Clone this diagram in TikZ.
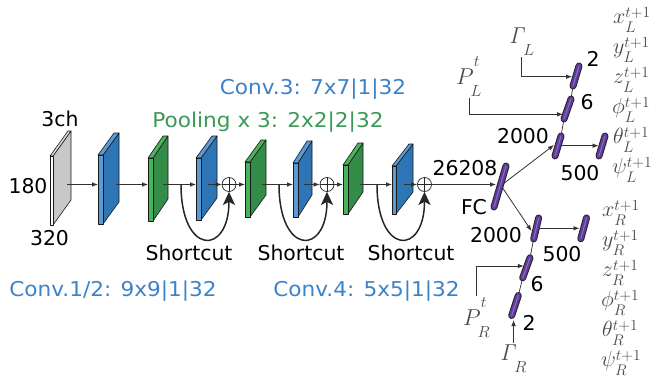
\documentclass[tikz,border=0pt]{standalone}
\usepackage{fix-cm}
\usepackage[no-math]{fontspec}
\newfontfamily\dejavu{DejaVu Sans}
\usetikzlibrary{arrows.meta,calc}
\definecolor{bluefront}{HTML}{5B9BD5}
\definecolor{blueside}{HTML}{2E75B6}
\definecolor{greenfront}{HTML}{47B45C}
\definecolor{greenside}{HTML}{338C48}
\definecolor{grayside}{HTML}{C8C8C8}
\definecolor{graytop}{HTML}{DEDEDE}
\definecolor{labblue}{HTML}{3C82C8}
\definecolor{labgreen}{HTML}{3A9A55}
\definecolor{mathgray}{HTML}{4A4A4A}
\definecolor{linegray}{HTML}{333333}
\definecolor{barpurple}{HTML}{5E3A9A}
\definecolor{barlight}{HTML}{8E6CC8}

\newcommand\mySlab[9]{% x, top, bottom, front width, dx, rise, front, side, top
  \filldraw[slabline,fill=#8] ({#1+#4},#2) -- ({#1+#4+#5},{#2-#6}) -- ({#1+#4+#5},{#3-#6}) -- ({#1+#4},#3) -- cycle;
  \filldraw[slabline,fill=#9] (#1,#2) -- ({#1+#5},{#2-#6}) -- ({#1+#4+#5},{#2-#6}) -- ({#1+#4},#2) -- cycle;
  \filldraw[slabline,fill=#7] (#1,#2) rectangle ({#1+#4},#3);
}
\newcommand\fcBar[2]{%
  \draw[line width=7pt,line cap=round,draw=black!85] (#1) -- (#2);
  \draw[line width=5pt,line cap=round,draw=barpurple] (#1) -- (#2);
  \draw[line width=1pt,line cap=round,draw=barlight] (#1) -- (#2);
}
\newcommand\dn[1]{\raisebox{-0.2em}{$\scriptstyle #1$}}
\newcommand\upr[1]{\raisebox{-0.12em}{$\scriptstyle #1$}}
\newcommand\hi[1]{\raisebox{0.4em}{$\scriptstyle #1$}}

\begin{document}
\begin{tikzpicture}[x=1pt,y=-1pt,
  every node/.style={inner sep=0pt},
  slabline/.style={draw=black!90, line width=0.6pt, line join=round},
  lab/.style={font=\dejavu\fontsize{20.4}{24}\selectfont, anchor=base},
  wide/.style={xscale=1.06},
  ml/.style={font=\fontsize{22}{26}\selectfont, text=mathgray, anchor=base west, inner sep=1pt},
  ml2/.style={font=\fontsize{23}{27}\selectfont, text=mathgray, anchor=base west, inner sep=1pt},
  arr/.style={draw=linegray, line width=0.8pt, -{Latex[length=6pt,width=4.6pt]}},
  sc/.style={draw=black!85, line width=1.5pt, -{Stealth[length=13pt,width=12pt,inset=3pt]}},
  plus/.style={circle, draw=black!85, line width=0.7pt, fill=white, minimum size=14pt, inner sep=0pt},
  thin/.style={draw=black!85, line width=0.7pt}
]
\useasboundingbox (0,0) rectangle (657,381);

% ---- slabs ----
\mySlab{50}{156}{225}{3}{18}{25}{white}{grayside}{graytop}
\mySlab{98}{155}{224}{5}{16}{22}{bluefront}{blueside}{bluefront}
\mySlab{148}{158}{221}{5}{15}{22}{greenfront}{greenside}{greenfront}
\mySlab{196}{158}{220}{5}{16}{22}{bluefront}{blueside}{bluefront}
\mySlab{245}{162}{217}{5}{16}{22}{greenfront}{greenside}{greenfront}
\mySlab{293}{163}{217}{5}{14}{22}{bluefront}{blueside}{bluefront}
\mySlab{343}{165}{214}{5}{15}{22}{greenfront}{greenside}{greenfront}
\mySlab{392}{166}{214}{4}{17}{22}{bluefront}{blueside}{bluefront}

% ---- coordinates on the main line ----
\coordinate (g0o) at (67,184.5);
\coordinate (b1i) at (98,184.5);  \coordinate (b1o) at (116,184.5);
\coordinate (n1i) at (148,184.5); \coordinate (n1o) at (163,184.5);
\coordinate (b2i) at (196,184.5); \coordinate (b2o) at (208,184.5);
\coordinate (n2i) at (245,184.5); \coordinate (n2o) at (262,184.5);
\coordinate (b3i) at (293,184.5); \coordinate (b3o) at (304,184.5);
\coordinate (n3i) at (343,184.5); \coordinate (n3o) at (360,184.5);
\coordinate (b4i) at (392,184.5); \coordinate (b4o) at (404,184.5);
\coordinate (s1) at (181,184.5);
\coordinate (s2) at (279,184.5);
\coordinate (s3) at (377,184.5);

\node[plus] (p1) at (229,184.5) {};
\node[plus] (p2) at (327,184.5) {};
\node[plus] (p3) at (424.5,184.5) {};
\foreach \p in {p1,p2,p3}{\draw[thin] (\p.north) -- (\p.south) (\p.west) -- (\p.east);}

\draw[arr] (g0o) -- (b1i);
\draw[arr] (b1o) -- (n1i);
\draw[arr] (n1o) -- (b2i);
\draw[arr] (b2o) -- (p1.west);
\draw[arr] (p1.east) -- (n2i);
\draw[arr] (n2o) -- (b3i);
\draw[arr] (b3o) -- (p2.west);
\draw[arr] (p2.east) -- (n3i);
\draw[arr] (n3o) -- (b4i);
\draw[arr] (b4o) -- (p3.west);

\draw[sc] (s1) .. controls (181,256) and (229,256) .. (p1.south);
\draw[sc] (s2) .. controls (279,256) and (327,256) .. (p2.south);
\draw[sc] (s3) .. controls (377,256) and (424.5,256) .. (p3.south);

% ---- FC bars ----
\coordinate (fcA) at (494,207);   \coordinate (fcB) at (506,166);
\coordinate (l2kA) at (555,156);  \coordinate (l2kB) at (561,136);
\coordinate (l5A) at (599,156);   \coordinate (l5B) at (605,136);
\coordinate (l6A) at (564,119);   \coordinate (l6B) at (571,99);
\coordinate (l2A) at (573,86);    \coordinate (l2B) at (579,66);
\coordinate (r2kA) at (533.7,239);\coordinate (r2kB) at (538.6,218);
\coordinate (r5A) at (580.8,238.8);\coordinate (r5B) at (586.5,217.9);
\coordinate (r6A) at (522.7,277.9);\coordinate (r6B) at (530,257.8);
\coordinate (r2A) at (511.7,315.5);\coordinate (r2B) at (518.3,295.5);

\draw[thin] (l2kB) -- (l6A);
\draw[thin] (l6B) -- (l2A);
\draw[thin] (r2kA) -- (r6B);
\draw[thin] (r6A) -- (r2B);

\coordinate (fcin) at (496,184.5);
\coordinate (fcc) at (501,185.5);
\coordinate (l2kin) at (554,145);
\coordinate (r2kin) at (531.5,231);
\coordinate (l2ko) at (558,145.7);
\coordinate (l5in) at (598.5,145.7);
\coordinate (r2ko) at (537,228.3);
\coordinate (r5in) at (579.5,228.3);
\coordinate (l2in) at (572,76.7);
\coordinate (l6in) at (563,114.3);
\coordinate (r6in) at (523.8,266);
\coordinate (r2in) at (512.3,320);

\draw[arr] (p3.east) -- (fcin);
\draw[arr] (fcc) -- (l2kin);
\draw[arr] (fcc) -- (r2kin);
\draw[arr] (l2ko) -- (l5in);
\draw[arr] (r2ko) -- (r5in);

\fcBar{fcA}{fcB}
\fcBar{l2kA}{l2kB}
\fcBar{l5A}{l5B}
\fcBar{l6A}{l6B}
\fcBar{l2A}{l2B}
\fcBar{r2kA}{r2kB}
\fcBar{r5A}{r5B}
\fcBar{r6A}{r6B}
\fcBar{r2A}{r2B}

% ---- input labels ----
\node[ml2] (GL) at (508,43.3) {$\mathit{\Gamma}_{\raisebox{-0.4em}{$\scriptstyle L$}}$};
\node[ml2] (PL) at (455,84) {$P^{\hi{t}}_{\raisebox{-0.3em}{$\scriptstyle L$}}$};
\node[ml2] (PR) at (462,325) {$P^{\hi{t}}_{\raisebox{-0.3em}{$\scriptstyle R$}}$};
\node[ml2] (GR) at (499,360) {$\mathit{\Gamma}_{\raisebox{-0.4em}{$\scriptstyle R$}}$};

\draw[arr] (GL.south) |- (l2in);
\draw[arr] (PL.south) |- (l6in);
\draw[arr] (PR.north) |- (r6in);
\draw[arr] (GR.north) -- (GR.north |- r2in);

% ---- text labels ----
\node[lab] (t3ch) at (60,126.5) {3ch};
\node[lab] (t180) at (28,193.3) {180};
\node[lab] (t320) at (49.5,245.7) {320};
\node[lab] (sh1) at (189,260) {Shortcut};
\node[lab] (sh2) at (301,260) {Shortcut};
\node[lab] (sh3) at (411,260) {Shortcut};
\node[lab, wide, text=labblue] (c12) at (113,296) {Conv.1/2: 9x9|1|32};
\node[lab, wide, text=labblue] (c4) at (366.5,296) {Conv.4: 5x5|1|32};
\node[lab, wide, text=labblue] (c3) at (313,94) {Conv.3: 7x7|1|32};
\node[lab, wide, text=labgreen] (pool) at (268,127.3) {Pooling x 3: 2x2|2|32};
\node[lab] (n26208) at (465,175) {26208};
\node[lab] (nFC) at (474,214) {FC};
\node[lab] (nL2000) at (523,143.3) {2000};
\node[lab] (nL500) at (580,180) {500};
\node[lab] (nL6) at (587,109.3) {6};
\node[lab] (nL2) at (593,66.7) {2};
\node[lab] (nR2000) at (496,242) {2000};
\node[lab] (nR500) at (562,261.7) {500};
\node[lab] (nR6) at (537,291.7) {6};
\node[lab] (nR2) at (529,330.7) {2};

% ---- output labels ----
\node[ml] (xL) at (612,23) {$x^{\upr{t+1}}_{\dn{L}}$};
\node[ml] (yL) at (612,53) {$y^{\upr{t+1}}_{\dn{L}}$};
\node[ml] (zL) at (612,83) {$z^{\upr{t+1}}_{\dn{L}}$};
\node[ml] (fL) at (611,113) {$\phi^{\upr{t+1}}_{\dn{L}}$};
\node[ml] (thL) at (612,143) {$\theta^{\upr{t+1}}_{\dn{L}}$};
\node[ml] (psL) at (611,173) {$\psi^{\upr{t+1}}_{\dn{L}}$};
\node[ml] (xR) at (601,216) {$x^{\upr{t+1}}_{\dn{R}}$};
\node[ml] (yR) at (601,246) {$y^{\upr{t+1}}_{\dn{R}}$};
\node[ml] (zR) at (601,276) {$z^{\upr{t+1}}_{\dn{R}}$};
\node[ml] (fR) at (600,306) {$\phi^{\upr{t+1}}_{\dn{R}}$};
\node[ml] (thR) at (601,336) {$\theta^{\upr{t+1}}_{\dn{R}}$};
\node[ml] (psR) at (600,366) {$\psi^{\upr{t+1}}_{\dn{R}}$};
\end{tikzpicture}
\end{document}
